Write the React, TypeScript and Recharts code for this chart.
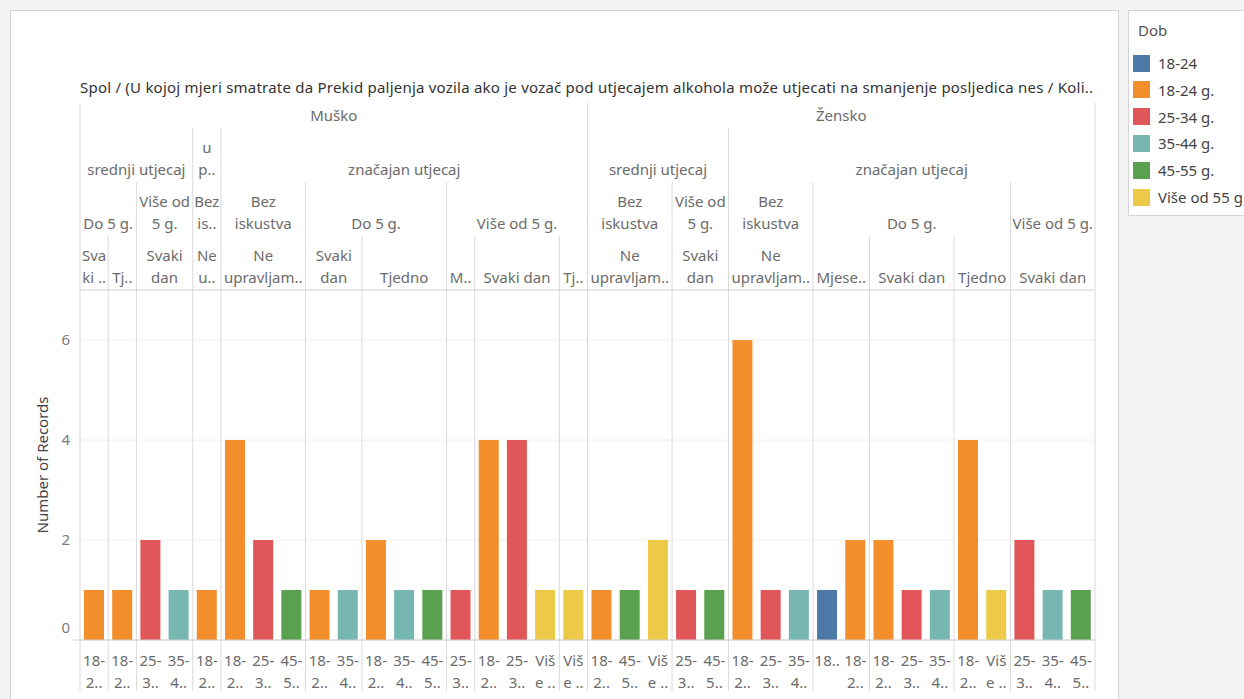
import React from 'react';
import { BarChart, Bar, Cell, XAxis, YAxis, CartesianGrid } from 'recharts';

// Dob (age group) of every bar, left to right
const ages = [
  // Muško
  '18-24 g.', '18-24 g.', '25-34 g.', '35-44 g.', '18-24 g.', '18-24 g.', '25-34 g.', '45-55 g.', '18-24 g.',
  '35-44 g.', '18-24 g.', '35-44 g.', '45-55 g.', '25-34 g.', '18-24 g.', '25-34 g.', 'Više od 55 g.', 'Više od 55 g.',
  // Žensko
  '18-24 g.', '45-55 g.', 'Više od 55 g.', '25-34 g.', '45-55 g.', '18-24 g.', '25-34 g.', '35-44 g.', '18-24',
  '18-24 g.', '18-24 g.', '25-34 g.', '35-44 g.', '18-24 g.', 'Više od 55 g.', '25-34 g.', '35-44 g.', '45-55 g.',
];

const records = [
  1, 1, 2, 1, 1, 4, 2, 1, 1, 1, 2, 1, 1, 1, 4, 4, 1, 1,
  1, 1, 2, 1, 1, 6, 1, 1, 1, 2, 2, 1, 1, 4, 1, 2, 1, 1,
];

const legendAges = ['18-24', '18-24 g.', '25-34 g.', '35-44 g.', '45-55 g.', 'Više od 55 g.'];
const legendColors = ['#4e79a7', '#f28e2b', '#e15759', '#76b7b2', '#59a14f', '#edc948'];

// tick labels as Tableau wraps / truncates them in a single column
const ageTickLines: Record<string, string[]> = {
  '18-24': ['18..'],
  '18-24 g.': ['18-', '2..'],
  '25-34 g.': ['25-', '3..'],
  '35-44 g.': ['35-', '4..'],
  '45-55 g.': ['45-', '5..'],
  'Više od 55 g.': ['Viš', 'e ..'],
};

const yTicks = [0, 2, 4, 6];

type Group = { lines: string[]; span: number };

const spol: Group[] = [
  { lines: ['Muško'], span: 18 },
  { lines: ['Žensko'], span: 18 },
];
const utjecaj: Group[] = [
  { lines: ['srednji utjecaj'], span: 4 },
  { lines: ['u', 'p..'], span: 1 },
  { lines: ['značajan utjecaj'], span: 13 },
  { lines: ['srednji utjecaj'], span: 5 },
  { lines: ['značajan utjecaj'], span: 13 },
];
const iskustvo: Group[] = [
  { lines: ['Do 5 g.'], span: 2 },
  { lines: ['Više od', '5 g.'], span: 2 },
  { lines: ['Bez', 'is..'], span: 1 },
  { lines: ['Bez', 'iskustva'], span: 3 },
  { lines: ['Do 5 g.'], span: 5 },
  { lines: ['Više od 5 g.'], span: 5 },
  { lines: ['Bez', 'iskustva'], span: 3 },
  { lines: ['Više od', '5 g.'], span: 2 },
  { lines: ['Bez', 'iskustva'], span: 3 },
  { lines: ['Do 5 g.'], span: 7 },
  { lines: ['Više od 5 g.'], span: 3 },
];
const ucestalost: Group[] = [
  { lines: ['Sva', 'ki ..'], span: 1 },
  { lines: ['Tj..'], span: 1 },
  { lines: ['Svaki', 'dan'], span: 2 },
  { lines: ['Ne', 'u..'], span: 1 },
  { lines: ['Ne', 'upravljam..'], span: 3 },
  { lines: ['Svaki', 'dan'], span: 2 },
  { lines: ['Tjedno'], span: 3 },
  { lines: ['M..'], span: 1 },
  { lines: ['Svaki dan'], span: 3 },
  { lines: ['Tj..'], span: 1 },
  { lines: ['Ne', 'upravljam..'], span: 3 },
  { lines: ['Svaki', 'dan'], span: 2 },
  { lines: ['Ne', 'upravljam..'], span: 3 },
  { lines: ['Mjese..'], span: 2 },
  { lines: ['Svaki dan'], span: 3 },
  { lines: ['Tjedno'], span: 2 },
  { lines: ['Svaki dan'], span: 3 },
];

const TITLE =
  'Spol  /  (U kojoj mjeri smatrate da Prekid paljenja vozila ako je vozač pod utjecajem alkohola može utjecati na smanjenje posljedica nes  /  Koli..';

const colorOf = (age: string) => legendColors[legendAges.indexOf(age)];

const data = records.map((v, i) => ({ key: String(i), age: ages[i], records: v }));

const FONT = '"Noto Sans", sans-serif';
const FS = 15;
const TEXT = '#6b6b6b';
const LINE = '#d9d9d9';

// plot geometry
const CHART_W = 1120;
const CHART_H = 699;
const PLOT_LEFT = 80;
const PLOT_RIGHT = 1095;
const PLOT_TOP = 290;
const PLOT_BOTTOM = 640;
const Y_AXIS_W = 30;
const BAND = (PLOT_RIGHT - PLOT_LEFT) / records.length;

const headerRows = [spol, utjecaj, iskustvo, ucestalost];
const rowTop = [103, 128, 182, 236, PLOT_TOP];
const LINES_BOTTOM = 691;

const XTick = (props: any) => {
  const { x, payload } = props;
  const lines = ageTickLines[ages[payload.index]] || [];
  return (
    <g>
      {lines.map((l, k) => (
        <text key={k} x={x} y={PLOT_BOTTOM + 26 + k * 22} textAnchor="middle" fill={TEXT} fontSize={FS} fontFamily={FONT}>
          {l}
        </text>
      ))}
    </g>
  );
};

const YTick = (props: any) => {
  const { x, y, payload } = props;
  const shift = payload.value === 0 ? -12 : 0;
  return (
    <text x={x - 2} y={y + 5 + shift} textAnchor="end" fill="#7a7a7a" fontSize={FS} fontFamily={FONT}>
      {payload.value}
    </text>
  );
};

const Headers: React.FC = () => {
  const lineStart: Record<number, number> = {};
  headerRows.forEach((row, r) => {
    let acc = 0;
    row.forEach((g) => {
      acc += g.span;
      if (acc < records.length && lineStart[acc] === undefined) lineStart[acc] = r;
    });
  });
  return (
    <svg width={1244} height={699} style={{ position: 'absolute', left: 0, top: 0, pointerEvents: 'none' }}>
      <text x={PLOT_LEFT} y={93} fill="#333" fontSize={FS} fontFamily={FONT} textLength={PLOT_RIGHT - PLOT_LEFT - 2} lengthAdjust="spacing">
        {TITLE}
      </text>
      {headerRows.map((row, r) => {
        let acc = 0;
        return row.map((g, gi) => {
          const cx = PLOT_LEFT + (acc + g.span / 2) * BAND;
          acc += g.span;
          const base = rowTop[r + 1] - 7;
          return g.lines.map((l, k) => (
            <text
              key={`${r}-${gi}-${k}`}
              x={cx}
              y={base - (g.lines.length - 1 - k) * 22}
              textAnchor="middle"
              fill={TEXT}
              fontSize={FS}
              fontFamily={FONT}
            >
              {l}
            </text>
          ));
        });
      })}
      {Object.keys(lineStart).map((b) => {
        const x = PLOT_LEFT + Number(b) * BAND;
        return <line key={b} x1={x} x2={x} y1={rowTop[lineStart[Number(b)]]} y2={LINES_BOTTOM} stroke={LINE} />;
      })}
      <line x1={PLOT_LEFT} x2={PLOT_LEFT} y1={rowTop[0]} y2={LINES_BOTTOM} stroke={LINE} />
      <line x1={PLOT_RIGHT} x2={PLOT_RIGHT} y1={rowTop[0]} y2={LINES_BOTTOM} stroke={LINE} />
      <line x1={PLOT_LEFT} x2={PLOT_RIGHT} y1={PLOT_TOP} y2={PLOT_TOP} stroke={LINE} />
      <line x1={73} x2={PLOT_RIGHT} y1={PLOT_BOTTOM} y2={PLOT_BOTTOM} stroke="#cfcfcf" />
    </svg>
  );
};

const App: React.FC = () => {
  return (
    <div style={{ position: 'absolute', left: 0, top: 0, width: 1244, height: 699, background: '#f3f3f3', overflow: 'hidden' }}>
      <div style={{ position: 'absolute', left: 10, top: 10, width: 1107, height: 700, background: '#fff', border: '1px solid #d4d4d4' }} />
      <div style={{ position: 'absolute', left: 0, top: 0 }}>
        <BarChart
          width={CHART_W}
          height={CHART_H}
          data={data}
          margin={{ top: PLOT_TOP, right: CHART_W - PLOT_RIGHT, bottom: 0, left: PLOT_LEFT - Y_AXIS_W }}
        >
          <CartesianGrid vertical={false} stroke="#f0f0f0" />
          <XAxis dataKey="key" interval={0} axisLine={false} tickLine={false} height={CHART_H - PLOT_BOTTOM} tick={<XTick />} />
          <YAxis
            domain={[0, 7]}
            ticks={yTicks}
            width={Y_AXIS_W}
            axisLine={false}
            tickLine={false}
            tick={<YTick />}
            label={{
              value: 'Number of Records',
              angle: -90,
              position: 'left',
              offset: 7,
              textAnchor: 'middle',
              fill: '#444',
              fontSize: FS,
              fontFamily: FONT,
            }}
          />
          <Bar dataKey="records" barSize={20} isAnimationActive={false}>
            {data.map((d) => (
              <Cell key={d.key} fill={colorOf(d.age)} />
            ))}
          </Bar>
        </BarChart>
      </div>
      <Headers />
      <div
        style={{
          position: 'absolute',
          left: 1128,
          top: 10,
          width: 130,
          height: 204,
          background: '#fff',
          border: '1px solid #d4d4d4',
          fontFamily: FONT,
          fontSize: FS,
        }}
      >
        <div style={{ position: 'absolute', left: 9, top: 9, color: '#555' }}>Dob</div>
        {legendAges.map((a, i) => (
          <div key={a} style={{ position: 'absolute', left: 4, top: 42 + i * 26.8, display: 'flex', alignItems: 'center', whiteSpace: 'nowrap' }}>
            <div style={{ width: 17, height: 17, background: legendColors[i], marginRight: 8 }} />
            <span style={{ color: '#444' }}>{a}</span>
          </div>
        ))}
      </div>
    </div>
  );
};

export default App;
